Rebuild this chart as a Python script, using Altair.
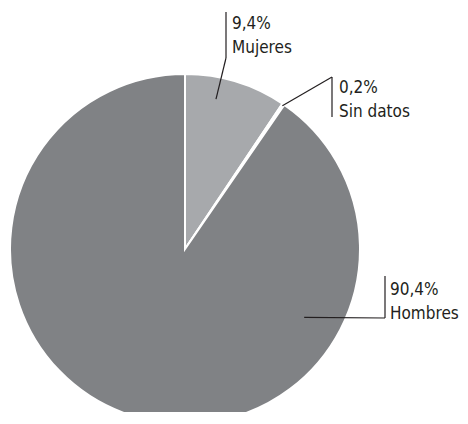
import math
import numpy as np
import pandas as pd
import altair as alt

# ---- data ----
categories = ["Mujeres", "Sin datos", "Hombres"]
values = [9.4, 0.2, 90.4]
pct_labels = ["9,4%", "0,2%", "90,4%"]
colors = ["#a7a9ac", "#e6e7e8", "#808285"]

# ---- layout (pixels, chart coordinates) ----
W, H = 452, 404
CX, CY, R = 177, 241, 175
FONT = "DejaVu Sans Condensed"
FS = 17

# anchor inside slice: fraction along slice angle, fraction of radius
anchor_spec = {
    "Mujeres": (0.345, 0.875),
    "Sin datos": (0.5, 0.99),
    "Hombres": (0.262, 0.785),
}
# leader path after anchor: elbow point, end point
leader_path = {
    "Mujeres": [(218, 50), (218, 4)],
    "Sin datos": [(324, 69), (324, 109)],
    "Hombres": [(377, 310), (377, 268)],
}
# label text left x, baseline of first line
label_pos = {
    "Mujeres": (224, 21),
    "Sin datos": (331, 85),
    "Hombres": (382, 287),
}
LINE_GAP = 24

pie_df = pd.DataFrame({
    "cat": categories,
    "value": values,
    "order": list(range(len(categories))),
})

total = sum(values)
cum = np.concatenate([[0.0], np.cumsum(values)]) / total * 2 * math.pi

segs = []
texts = []
for i, c in enumerate(categories):
    a0, a1 = cum[i], cum[i + 1]
    fa, fr = anchor_spec[c]
    ang = a0 + fa * (a1 - a0)
    ax = CX + fr * R * math.sin(ang)
    ay = CY - fr * R * math.cos(ang)
    pts = [(ax, ay)] + leader_path[c]
    for (x1, y1), (x2, y2) in zip(pts[:-1], pts[1:]):
        segs.append({"x": x1, "y": y1, "x2": x2, "y2": y2})
    tx, ty = label_pos[c]
    texts.append({"x": tx, "y": ty, "t": pct_labels[i]})
    texts.append({"x": tx, "y": ty + LINE_GAP, "t": c})

seg_df = pd.DataFrame(segs)
text_df = pd.DataFrame(texts)

pie = alt.Chart(pie_df).mark_arc(
    radius=R, stroke="white", strokeWidth=2
).encode(
    theta=alt.Theta("value:Q", stack=True),
    order=alt.Order("order:Q"),
    color=alt.Color("cat:N", scale=alt.Scale(domain=categories, range=colors), legend=None),
    x=alt.value(CX),
    y=alt.value(CY),
)

lines = alt.Chart(seg_df).mark_rule(color="#231f20", strokeWidth=1.2).encode(
    x=alt.X("x:Q", scale=None),
    y=alt.Y("y:Q", scale=None),
    x2="x2:Q",
    y2="y2:Q",
)

labels = alt.Chart(text_df).mark_text(
    align="left", baseline="alphabetic", font=FONT, fontSize=FS, color="#231f20"
).encode(
    x=alt.X("x:Q", scale=None),
    y=alt.Y("y:Q", scale=None),
    text="t:N",
)

chart = alt.layer(pie, lines, labels).properties(
    width=W, height=H, padding=0,
    autosize=alt.AutoSizeParams(type="none"),
).configure_view(stroke=None)

chart.save("out.html", embed_options={"renderer": "svg", "actions": False})
